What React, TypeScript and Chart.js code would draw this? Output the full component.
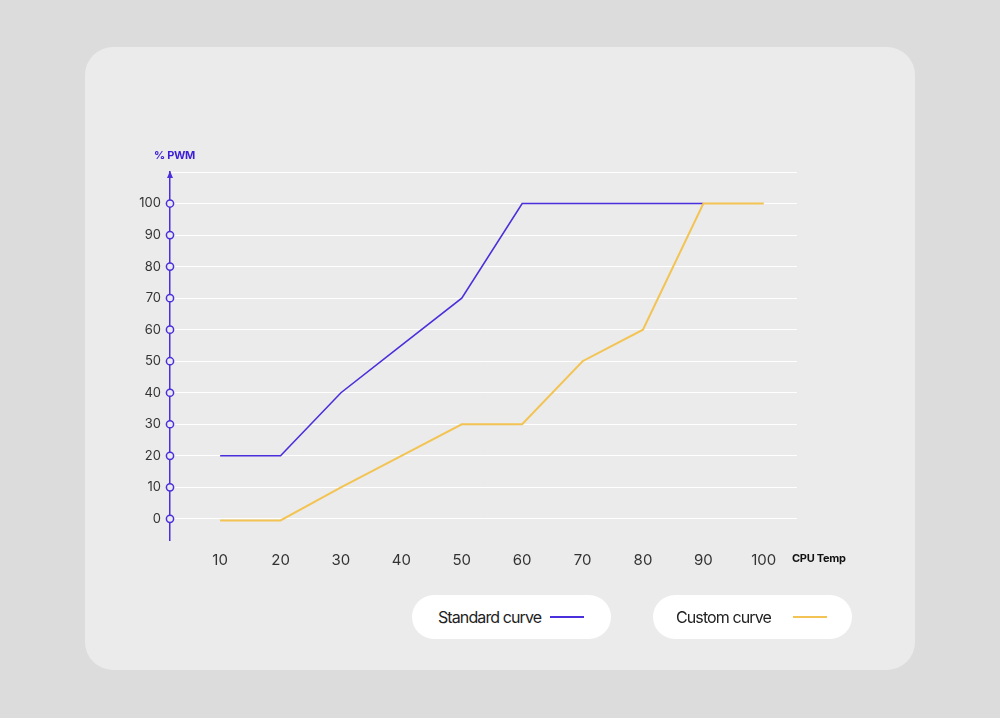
import React, { useEffect, useRef } from 'react';
import { Chart, registerables } from 'chart.js';

Chart.register(...registerables);

// CPU temperature (°C) on the x axis
const temps = [10, 20, 30, 40, 50, 60, 70, 80, 90, 100];
// % PWM per temperature
const standardCurve = [20, 20, 40, 55, 70, 100, 100, 100, 100, 100];
const customCurve = [-0.5, -0.5, 10, 20, 30, 30, 50, 60, 100, 100];
// y axis ticks with the little open circles
const pwmTicks = [0, 10, 20, 30, 40, 50, 60, 70, 80, 90, 100];
const gridTop = 110;

const STANDARD = '#4a2fdc';
const CUSTOM = '#f3c453';
const FONT = 'Inter, "Liberation Sans", Arial, sans-serif';

// little arrow head on top of the y axis
const arrowPlugin = {
  id: 'axisArrow',
  afterDraw(chart) {
    const { ctx, chartArea } = chart;
    const x = chartArea.left;
    const y = chartArea.top;
    ctx.save();
    ctx.fillStyle = STANDARD;
    ctx.beginPath();
    ctx.moveTo(x, y - 1);
    ctx.lineTo(x - 3, y + 6);
    ctx.lineTo(x + 3, y + 6);
    ctx.closePath();
    ctx.fill();
    ctx.restore();
  },
};

function FanChart() {
  const canvasRef = useRef(null);

  useEffect(() => {
    if (!canvasRef.current) return;
    const xMin = 1.7;
    const xMax = 105.5;

    const chart = new Chart(canvasRef.current, {
      type: 'line',
      data: {
        datasets: [
          {
            label: 'Custom curve',
            data: temps.map((t, i) => ({ x: t, y: customCurve[i] })),
            borderColor: CUSTOM,
            borderWidth: 2,
            pointRadius: 0,
            tension: 0,
            order: 1,
          },
          {
            label: 'Standard curve',
            data: temps.slice(0, 9).map((t, i) => ({ x: t, y: standardCurve[i] })),
            borderColor: STANDARD,
            borderWidth: 1.6,
            pointRadius: 0,
            tension: 0,
            order: 2,
          },
          {
            label: 'ticks',
            data: pwmTicks.map((v) => ({ x: xMin, y: v })),
            showLine: false,
            pointRadius: 3.6,
            pointBorderWidth: 1.5,
            pointBorderColor: STANDARD,
            pointBackgroundColor: '#ebebeb',
            clip: false,
            order: 0,
          },
        ],
      },
      options: {
        animation: false,
        responsive: true,
        maintainAspectRatio: false,
        events: [],
        layout: {
          padding: { left: 130, top: 172, right: 203, bottom: 148 },
        },
        plugins: {
          legend: { display: false },
          tooltip: { enabled: false },
        },
        scales: {
          x: {
            type: 'linear',
            min: xMin,
            max: xMax,
            afterBuildTicks: (scale) => {
              scale.ticks = temps.map((v) => ({ value: v }));
            },
            afterFit: (scale) => {
              scale.height = 30;
            },
            grid: { display: false, drawTicks: false },
            border: { display: false },
            ticks: {
              color: '#333',
              padding: 11,
              autoSkip: false,
              maxRotation: 0,
              font: { family: FONT, size: 15 },
            },
          },
          y: {
            min: -6.7,
            max: gridTop,
            afterBuildTicks: (scale) => {
              scale.ticks = [...pwmTicks, gridTop].map((v) => ({ value: v }));
            },
            afterFit: (scale) => {
              scale.width = 40;
            },
            grid: {
              color: '#ffffff',
              lineWidth: 1,
              drawTicks: false,
            },
            border: { display: true, color: STANDARD, width: 1.5 },
            ticks: {
              color: '#333',
              padding: 9,
              font: { family: FONT, size: 13 },
              callback: (v) => (v === gridTop ? '' : v),
            },
          },
        },
      },
      plugins: [arrowPlugin],
    });

    return () => chart.destroy();
  }, []);

  return (
    <div style={{ position: 'absolute', left: 0, top: 0, width: 1000, height: 718 }}>
      <canvas ref={canvasRef} />
    </div>
  );
}

function LegendPill({ left, label, color, textLeft, swatchLeft }) {
  return (
    <div
      style={{
        position: 'absolute',
        left,
        top: 595,
        width: 199,
        height: 44,
        borderRadius: 22,
        background: '#ffffff',
      }}
    >
      <span
        style={{
          position: 'absolute',
          left: textLeft,
          top: 12,
          fontSize: 16,
          letterSpacing: -0.9,
          color: '#222',
          fontFamily: FONT,
          lineHeight: '20px',
        }}
      >
        {label}
      </span>
      <div
        style={{
          position: 'absolute',
          left: swatchLeft,
          top: 21,
          width: 34,
          height: 2,
          background: color,
        }}
      />
    </div>
  );
}

export default function App() {
  return (
    <div
      style={{
        position: 'fixed',
        inset: 0,
        background: '#dcdcdc',
        fontFamily: FONT,
      }}
    >
      <div
        style={{
          position: 'absolute',
          left: 85,
          top: 47,
          width: 830,
          height: 623,
          borderRadius: 28,
          background: '#ebebeb',
        }}
      />
      <FanChart />
      <div
        style={{
          position: 'absolute',
          left: 154,
          top: 148,
          fontSize: 11,
          fontWeight: 700,
          color: '#3b1fd6',
          letterSpacing: -0.3,
        }}
      >
        % PWM
      </div>
      <div
        style={{
          position: 'absolute',
          left: 792,
          top: 551,
          fontSize: 11,
          fontWeight: 700,
          color: '#111',
          letterSpacing: -0.3,
        }}
      >
        CPU Temp
      </div>
      <LegendPill left={412} label="Standard curve" color={STANDARD} textLeft={26} swatchLeft={138} />
      <LegendPill left={653} label="Custom curve" color={CUSTOM} textLeft={23} swatchLeft={140} />
    </div>
  );
}
